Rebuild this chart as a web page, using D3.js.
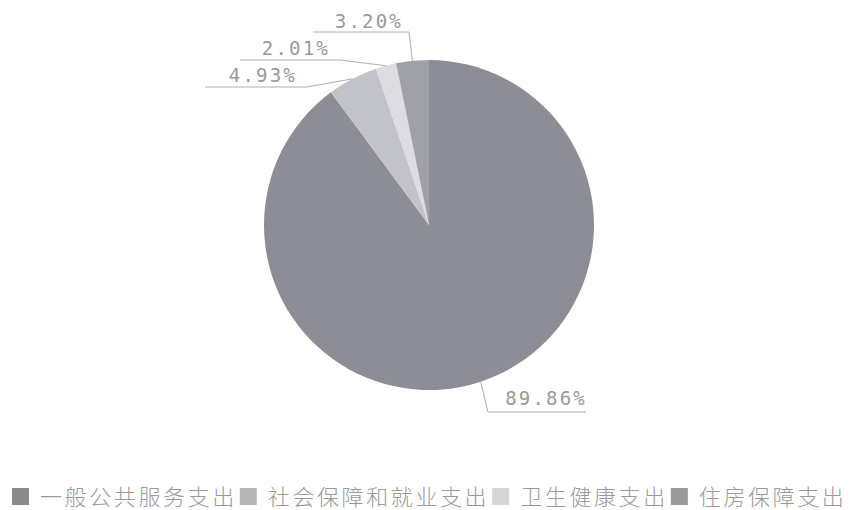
<!DOCTYPE html>
<html><head><meta charset="utf-8">
<script src="https://cdn.jsdelivr.net/npm/d3@7"></script>
<style>body{margin:0;background:#fff;}svg{display:block;}</style>
</head><body>
<svg id="chart" width="857" height="510"></svg>
<script>
const categories = ["一般公共服务支出", "社会保障和就业支出", "卫生健康支出", "住房保障支出"];
const values = [89.86, 4.93, 2.01, 3.20];
const labels = ["89.86%", "4.93%", "2.01%", "3.20%"];
const sliceColors = ["#8d8d97", "#c2c2ca", "#dcdce2", "#a0a0a8"];
const legendColors = ["#8a8a8e", "#b6b6ba", "#d6d6da", "#9a9a9e"];

// leader-line layout: elbow point and line end, text anchor x, baseline y
const labelLayout = [
  {elbow: [488, 412], end: [586, 412], tx: 587, ty: 405},
  {elbow: [307, 87], end: [205, 87], tx: 297, ty: 82},
  {elbow: [340, 60], end: [240, 60], tx: 330, ty: 55},
  {elbow: [409, 32], end: [313, 32], tx: 403, ty: 28}
];

const svg = d3.select("#chart");
const cx = 429, cy = 225, R = 165;
const g = svg.append("g").attr("transform", `translate(${cx},${cy})`);
const pie = d3.pie().sort(null).value(d => d)(values);
const arc = d3.arc().innerRadius(0).outerRadius(R);
g.selectAll("path.slice").data(pie).join("path")
  .attr("class", "slice")
  .attr("d", arc)
  .attr("fill", (d, i) => sliceColors[i]);

pie.forEach((d, i) => {
  const mid = (d.startAngle + d.endAngle) / 2;
  const p = [cx + R * Math.sin(mid), cy - R * Math.cos(mid)];
  const L = labelLayout[i];
  svg.append("polyline")
    .attr("points", [p, L.elbow, L.end].map(q => q.join(",")).join(" "))
    .attr("fill", "none").attr("stroke", "#b0b0b0").attr("stroke-width", 1);
  svg.append("text")
    .attr("x", L.tx).attr("y", L.ty)
    .attr("text-anchor", "end")
    .attr("font-family", "DejaVu Sans Mono, monospace")
    .attr("font-size", 19)
    .attr("font-weight", 300)
    .attr("letter-spacing", "2.2px")
    .attr("fill", "#9a9a9a")
    .text(labels[i]);
});

// legend
let x = 12;
const ly = 497;
categories.forEach((c, i) => {
  svg.append("rect").attr("x", x).attr("y", ly - 9).attr("width", 17).attr("height", 17)
    .attr("fill", legendColors[i]);
  const t = svg.append("text")
    .attr("x", x + 28).attr("y", ly + 8)
    .attr("font-family", "Noto Sans CJK SC, sans-serif")
    .attr("font-size", 22)
    .attr("font-weight", 300)
    .attr("letter-spacing", "2.6px")
    .attr("fill", "#9a9a9a")
    .text(c);
  const w = t.node().getComputedTextLength();
  x = x + 28 + w + 3;
});
</script>
</body></html>
